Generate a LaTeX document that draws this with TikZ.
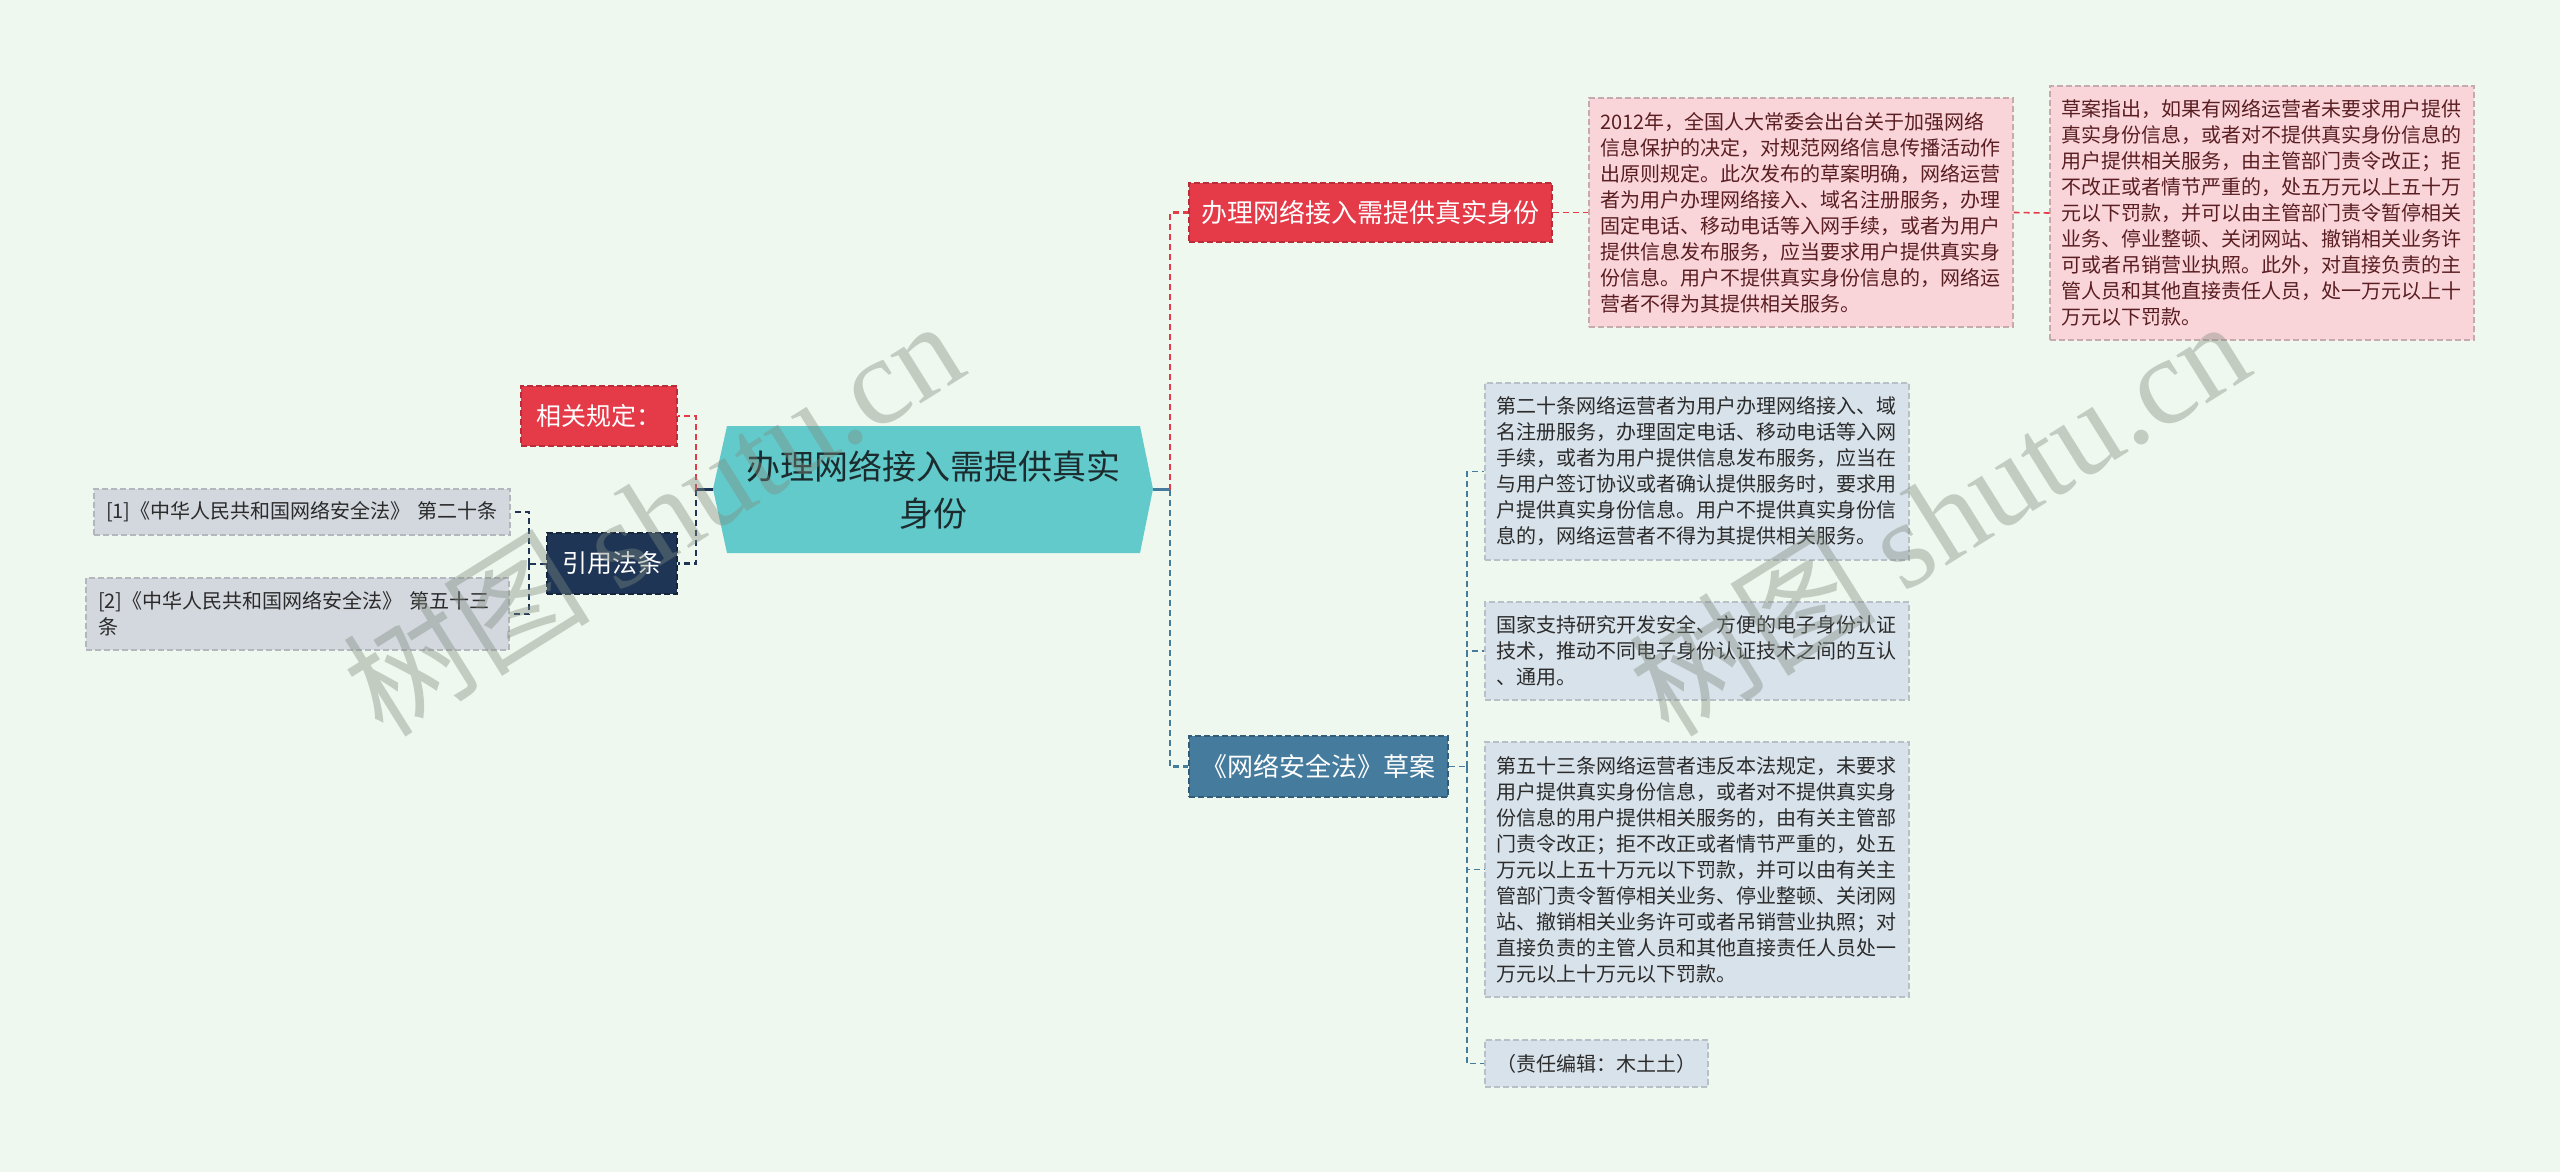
\documentclass[tikz,border=0pt]{standalone}
\usepackage{fontspec}
\setmainfont{Noto Sans CJK SC}
\newfontfamily\wmlatin{Liberation Serif}
\usetikzlibrary{calc}
\definecolor{bgc}{HTML}{EFF8EE}
\definecolor{rootfill}{HTML}{62CACB}
\definecolor{roottext}{HTML}{1C2B2E}
\definecolor{redc}{HTML}{E53A48}
\definecolor{navyc}{HTML}{1E3556}
\definecolor{bluec}{HTML}{457B9D}
\definecolor{pinkc}{HTML}{F9D5DA}
\definecolor{pinktext}{HTML}{5A1E22}
\definecolor{leafc}{HTML}{D8E2EA}
\definecolor{greyleaf}{HTML}{D3D7DE}
\definecolor{leaftext}{HTML}{2B2B2B}
\definecolor{wmc}{HTML}{7F8A7F}
\begin{document}
\begin{tikzpicture}[x=0.5pt,y=-0.5pt,
  boxn/.style={rectangle, inner sep=0pt, dash pattern=on 3pt off 1.5pt, line width=0.6pt},
  branchn/.style={boxn, text=white, align=center},
  leafn/.style={boxn, align=left, inner xsep=5.5pt, font=\fontsize{10}{13}\selectfont},
  conn/.style={line width=1.2pt, dash pattern=on 3pt off 2pt},
  cred/.style={conn, draw=redc},
  cnavy/.style={conn, draw=navyc},
  cblue/.style={conn, draw=bluec},
  wmark/.style={text=wmc, opacity=0.4, font=\fontsize{62}{66}\selectfont, inner sep=0pt}
]
\useasboundingbox (0,0) rectangle (2560,1172);
\fill[bgc] (0,0) rectangle (2560,1172);

% root
\fill[rootfill] (713,489) -- (727,426) -- (1140,426) -- (1153,489) -- (1140,553) -- (727,553) -- cycle;
\node[inner sep=0pt, minimum width=220pt, minimum height=63.5pt, align=center,
      text=roottext, font=\fontsize{17}{23.5}\selectfont] (root) at (933,489.5)
      {办理网络接入需提供真实\\身份};

% left side
\node[branchn, fill=redc, draw=redc!80!black, minimum width=78pt, minimum height=30pt,
      font=\fontsize{12.5}{15}\selectfont] (xg) at (599,416) {相关规定：};
\node[branchn, fill=navyc, draw=navyc!70!black, minimum width=65pt, minimum height=30.5pt,
      font=\fontsize{12.5}{15}\selectfont] (yy) at (612,563.5) {引用法条};
\node[leafn, fill=greyleaf, draw=greyleaf!85!black, text=leaftext, text width=196pt,
      minimum height=23pt, inner xsep=6pt] (ref1) at (302,512)
      {[1]《中华人民共和国网络安全法》 第二十条};
\node[leafn, fill=greyleaf, draw=greyleaf!85!black, text=leaftext, text width=199.5pt,
      minimum height=36pt, inner xsep=6pt] (ref2) at (297.5,614)
      {[2]《中华人民共和国网络安全法》 第五十三\\条};

% right branches
\node[branchn, fill=redc, draw=redc!80!black, minimum width=181.5pt, minimum height=29.5pt,
      font=\fontsize{13}{15}\selectfont] (b1) at (1370.5,212.5) {办理网络接入需提供真实身份};
\node[branchn, fill=bluec, draw=bluec!75!black, minimum width=129.5pt, minimum height=30.5pt,
      font=\fontsize{13}{15}\selectfont] (b2) at (1318.5,766.5) {《网络安全法》草案};

% pink leaves
\node[leafn, fill=pinkc, draw=pinkc!80!black, text=pinktext, text width=201pt,
      minimum height=114.5pt] (p1) at (1801,212.5)
{2012年，全国人大常委会出台关于加强网络\\
信息保护的决定，对规范网络信息传播活动作\\
出原则规定。此次发布的草案明确，网络运营\\
者为用户办理网络接入、域名注册服务，办理\\
固定电话、移动电话等入网手续，或者为用户\\
提供信息发布服务，应当要求用户提供真实身\\
份信息。用户不提供真实身份信息的，网络运\\
营者不得为其提供相关服务。};
\node[leafn, fill=pinkc, draw=pinkc!80!black, text=pinktext, text width=201pt,
      minimum height=127pt] (p2) at (2262,213)
{草案指出，如果有网络运营者未要求用户提供\\
真实身份信息，或者对不提供真实身份信息的\\
用户提供相关服务，由主管部门责令改正；拒\\
不改正或者情节严重的，处五万元以上五十万\\
元以下罚款，并可以由主管部门责令暂停相关\\
业务、停业整顿、关闭网站、撤销相关业务许\\
可或者吊销营业执照。此外，对直接负责的主\\
管人员和其他直接责任人员，处一万元以上十\\
万元以下罚款。};

% blue leaves
\node[leafn, fill=leafc, draw=leafc!85!black, text=leaftext, text width=201pt,
      minimum height=88.5pt] (l1) at (1697,471.5)
{第二十条网络运营者为用户办理网络接入、域\\
名注册服务，办理固定电话、移动电话等入网\\
手续，或者为用户提供信息发布服务，应当在\\
与用户签订协议或者确认提供服务时，要求用\\
户提供真实身份信息。用户不提供真实身份信\\
息的，网络运营者不得为其提供相关服务。};
\node[leafn, fill=leafc, draw=leafc!85!black, text=leaftext, text width=201pt,
      minimum height=49pt] (l2) at (1697,651)
{国家支持研究开发安全、方便的电子身份认证\\
技术，推动不同电子身份认证技术之间的互认\\
、通用。};
\node[leafn, fill=leafc, draw=leafc!85!black, text=leaftext, text width=201pt,
      minimum height=127.5pt] (l3) at (1697,869.5)
{第五十三条网络运营者违反本法规定，未要求\\
用户提供真实身份信息，或者对不提供真实身\\
份信息的用户提供相关服务的，由有关主管部\\
门责令改正；拒不改正或者情节严重的，处五\\
万元以上五十万元以下罚款，并可以由有关主\\
管部门责令暂停相关业务、停业整顿、关闭网\\
站、撤销相关业务许可或者吊销营业执照；对\\
直接负责的主管人员和其他直接责任人员处一\\
万元以上十万元以下罚款。};
\node[leafn, fill=leafc, draw=leafc!85!black, text=leaftext, text width=100.5pt,
      minimum height=23.5pt] (l4) at (1596.5,1063.5) {（责任编辑：木土土）};

% connectors left
\coordinate (jl) at (696,489.5);
\draw[line width=1.2pt, navyc] (root.west) -- (jl);
\draw[cred] (jl) |- (xg.east);
\draw[cnavy] (jl) |- (yy.east);
\coordinate (jl2) at (529,563.5);
\draw[cnavy, line width=1pt] (yy.west) -- (jl2);
\draw[cnavy, line width=1pt] (jl2) |- (ref1.east);
\draw[cnavy, line width=1pt] (jl2) |- (ref2.east);

% connectors right
\coordinate (jr) at (1170,489.5);
\draw[line width=1.2pt, bluec] (root.east) -- (jr);
\draw[cred] (jr) |- (b1.west);
\draw[cblue] (jr) |- (b2.west);
\draw[cred, line width=0.8pt] (b1.east) -- (p1.west);
\draw[cred, line width=0.8pt] (p1.east) -- (p2.west);
\coordinate (jb) at (1467,766.5);
\draw[cblue, line width=0.8pt] (b2.east) -- (jb);
\draw[cblue, line width=0.8pt] (jb) |- (l1.west);
\draw[cblue, line width=0.8pt] (jb) |- (l2.west);
\draw[cblue, line width=0.8pt] (jb) |- (l3.west);
\draw[cblue, line width=0.8pt] (jb) |- (l4.west);

% watermarks (on top, translucent)
\node[wmark, rotate=32] (wm1) at (652,516) {树图 {\wmlatin shutu.cn}};
\node[wmark, rotate=32] (wm2) at (1938,516) {树图 {\wmlatin shutu.cn}};
\end{tikzpicture}
\end{document}
